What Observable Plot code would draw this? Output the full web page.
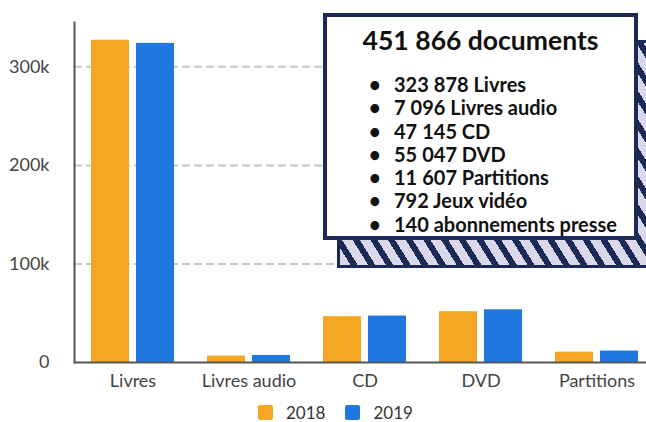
<!DOCTYPE html>
<html><head><meta charset="utf-8">
<script src="https://cdn.jsdelivr.net/npm/d3@7"></script>
<script src="https://cdn.jsdelivr.net/npm/@observablehq/plot@0.6"></script>
<style>
body{margin:0;background:#fff;font-family:Lato,sans-serif;}
#wrap{position:relative;width:646px;height:422px;overflow:hidden;}
#legend{position:absolute;left:258px;top:404px;display:flex;align-items:center;font-size:17px;line-height:17px;height:17px;color:#333;font-family:Lato,sans-serif;}
#legend .sw{width:15px;height:15px;border-radius:2px;margin-right:13px;}
#legend .it{display:flex;align-items:center;margin-right:20px;}
#shadow{position:absolute;left:337px;top:40px;width:320px;height:228px;box-sizing:border-box;border:3px solid #1b2a55;
 background:repeating-linear-gradient(58deg,#dcd8ec 0px,#dcd8ec 9px,#1b2a55 9px,#1b2a55 15px);}
#box{position:absolute;left:323px;top:13px;width:315px;height:227px;box-sizing:border-box;border:4px solid #1b2a55;background:#fff;
 font-family:Lato,sans-serif;color:#111;}
#box .title{font-weight:700;font-size:26.5px;text-align:center;margin-top:7px;line-height:32px;}
#box .list{margin-top:17px;}
#box .row{font-weight:700;font-size:20px;line-height:23.3px;display:flex;white-space:nowrap;}
#box .row .b{width:25px;padding-left:42px;}
</style></head><body><div id="wrap"></div>
<script>
const categories = ["Livres", "Livres audio", "CD", "DVD", "Partitions"];
const years = ["2018", "2019"];
const values2018 = [327000, 6500, 46500, 51500, 10500];
const values2019 = [323878, 7096, 47145, 53500, 11607];
const yTicks = [0, 100000, 200000, 300000];
const colors = ["#F5A623", "#1F78E0"];
const totalDocuments = 451866;
const itemCounts = [323878, 7096, 47145, 55047, 11607, 792, 140];
const itemLabels = ["Livres", "Livres audio", "CD", "DVD", "Partitions", "Jeux vidéo", "abonnements presse"];

const data = [];
categories.forEach((c, i) => {
  data.push({cat: c, year: years[0], value: values2018[i]});
  data.push({cat: c, year: years[1], value: values2019[i]});
});

const chart = Plot.plot({
  width: 646, height: 398,
  marginLeft: 74, marginRight: -9, marginTop: 22, marginBottom: 36,
  style: {fontFamily: "Lato, sans-serif", fontSize: "18px", color: "#444", background: "transparent"},
  x: {domain: categories, paddingInner: 0.284, paddingOuter: 0.142, label: null, tickSize: 0, tickPadding: 12},
  y: {domain: [0, 345000], ticks: yTicks, tickFormat: d3.format("~s"), label: null, tickSize: 0, tickPadding: 25},
  color: {domain: years, range: colors},
  marks: [
    Plot.ruleY(yTicks.filter(d => d > 0), {stroke: "#c8c8c8", strokeWidth: 2, strokeDasharray: "8,4"}),
    Plot.barY(data.filter(d => d.year === years[0]), {x: "cat", y: "value", fill: "year", insetRight: 45}),
    Plot.barY(data.filter(d => d.year === years[1]), {x: "cat", y: "value", fill: "year", insetLeft: 45}),
    Plot.frame({anchor: "left", stroke: "#555", strokeWidth: 2}),
    Plot.ruleY([0], {stroke: "#555", strokeWidth: 2})
  ]
});
const wrap = document.getElementById("wrap");
wrap.appendChild(chart);

// legend
const legend = document.createElement("div");
legend.id = "legend";
years.forEach((y, i) => {
  const it = document.createElement("div"); it.className = "it";
  const sw = document.createElement("div"); sw.className = "sw"; sw.style.background = colors[i];
  const tx = document.createElement("span"); tx.textContent = y;
  it.appendChild(sw); it.appendChild(tx); legend.appendChild(it);
});
wrap.appendChild(legend);

// annotation box
const fmt = d3.formatLocale({thousands: "\u202f", grouping: [3], decimal: ","}).format(",d");
const shadow = document.createElement("div"); shadow.id = "shadow"; wrap.appendChild(shadow);
const box = document.createElement("div"); box.id = "box";
const title = document.createElement("div"); title.className = "title";
title.textContent = fmt(totalDocuments) + " documents";
box.appendChild(title);
const list = document.createElement("div"); list.className = "list";
itemCounts.forEach((n, i) => {
  const r = document.createElement("div"); r.className = "row";
  const b = document.createElement("span"); b.className = "b"; b.textContent = "•";
  const t = document.createElement("span"); t.textContent = fmt(n) + " " + itemLabels[i];
  r.appendChild(b); r.appendChild(t); list.appendChild(r);
});
box.appendChild(list);
wrap.appendChild(box);
</script></body></html>
